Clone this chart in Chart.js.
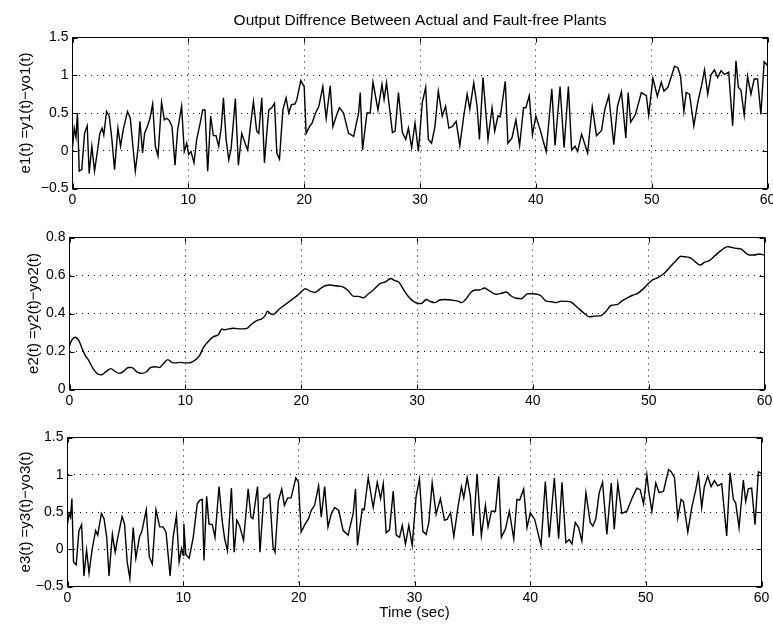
<!DOCTYPE html>
<html>
<head>
<meta charset="utf-8">
<script src="https://cdn.jsdelivr.net/npm/chart.js@4.4.1/dist/chart.umd.min.js"></script>
<style>
  html, body { margin: 0; padding: 0; background: #fff; }
  #wrap { position: relative; width: 773px; height: 626px; }
  canvas { position: absolute; left: 0; }
</style>
</head>
<body>
<div id="wrap">
  <canvas id="c1" width="773" height="210" style="top:0px"></canvas>
  <canvas id="c2" width="773" height="200" style="top:210px"></canvas>
  <canvas id="c3" width="773" height="216" style="top:410px"></canvas>
</div>
<script>
// e1(t)
const e1T = [0, 0.15, 0.3, 0.43, 0.58, 0.8, 1.04, 1.27, 1.44, 1.67, 1.9, 2.13, 2.36, 2.56, 2.7, 2.94, 3.17, 3.4, 3.63, 3.92,
  4.15, 4.38, 4.75, 4.99, 5.19, 5.42, 5.68, 5.82, 6.05, 6.22, 6.46, 6.69, 6.92, 7.15, 7.38, 7.69, 7.93, 8.13, 8.36, 8.59,
  8.85, 9.08, 9.42, 9.65, 9.86, 10.03, 10.23, 10.49, 10.72, 11.0, 11.24, 11.44, 11.67, 11.93, 12.16, 12.39, 12.62, 12.85, 13.03, 13.26,
  13.49, 13.69, 14.06, 14.32, 14.61, 14.9, 15.13, 15.39, 15.62, 15.9, 16.08, 16.34, 16.57, 16.77, 16.95, 17.2, 17.44, 17.64, 17.87, 18.16,
  18.44, 18.67, 18.9, 19.22, 19.37, 19.71, 20.0, 20.17, 20.46, 20.69, 20.98, 21.27, 21.61, 21.9, 22.25, 22.48, 22.82, 23.05, 23.4, 23.83,
  24.27, 24.7, 24.84, 25.04, 25.42, 25.7, 25.94, 26.37, 26.72, 26.9, 27.11, 27.62, 27.85, 28.14, 28.48, 28.77, 29.0, 29.28, 29.57, 29.86,
  30.2, 30.49, 30.72, 31.0, 31.29, 31.58, 31.92, 32.21, 32.49, 32.78, 33.12, 33.44, 33.78, 34.07, 34.3, 34.64, 34.93, 35.13, 35.44, 35.87,
  36.22, 36.45, 36.73, 36.93, 37.36, 37.59, 37.94, 38.28, 38.6, 38.94, 39.14, 39.43, 39.71, 40.0, 40.37, 40.89, 41.38, 41.66, 42.09, 42.44,
  42.81, 43.09, 43.38, 43.61, 43.95, 44.47, 44.87, 45.24, 45.67, 45.96, 46.3, 46.73, 47.05, 47.39, 47.77, 47.97, 48.19, 48.6, 49.11, 49.54,
  49.74, 50.11, 50.49, 50.83, 51.06, 51.4, 51.63, 51.98, 52.26, 52.49, 52.78, 52.98, 53.27, 53.64, 53.98, 54.33, 54.56, 54.84, 55.13, 55.42,
  55.7, 55.99, 56.28, 56.65, 56.99, 57.28, 57.48, 57.71, 57.99, 58.28, 58.57, 58.85, 59.14, 59.43, 59.71, 60];
const e1 = [0.04, 0.3, 0.18, 0.5, -0.27, -0.25, 0.23, 0.33, -0.3, 0.06, -0.27, -0.03, 0.23, 0.3, 0.21, 0.52, 0.46, 0.15, -0.25, 0.3,
  0.06, 0.28, 0.52, 0.43, 0.1, -0.27, 0.06, 0.39, -0.03, 0.23, 0.32, 0.43, 0.62, 0.06, -0.07, 0.64, 0.41, 0.43, 0.4, 0.32,
  -0.19, 0.28, 0.59, -0.01, 0.1, -0.05, -0.01, -0.16, 0.15, 0.35, 0.54, 0.54, -0.27, 0.46, 0.2, 0.2, 0.06, 0.32, 0.7, 0.15,
  -0.12, 0.02, 0.69, -0.19, 0.23, 0.1, 0.01, 0.37, 0.65, 0.26, 0.23, 0.7, -0.16, 0.23, 0.54, 0.57, 0.63, -0.03, -0.11, 0.54,
  0.7, 0.5, 0.61, 0.62, 0.68, 0.93, 0.85, 0.23, 0.32, 0.37, 0.5, 0.59, 0.85, 0.43, 0.86, 0.32, 0.48, 0.57, 0.5, 0.23,
  0.19, 0.5, 0.77, 0.01, 0.5, 0.5, 0.91, 0.54, 0.88, 0.68, 0.9, 0.24, 0.26, 0.77, 0.24, 0.15, 0.3, 0.04, 0.37, -0.01,
  0.64, 0.84, 0.15, 0.1, 0.32, 0.79, 0.46, 0.59, 0.3, 0.32, 0.39, 0.07, 0.46, 0.75, 0.55, 0.9, 0.59, 0.15, 0.97, 0.15,
  0.57, 0.26, 0.46, 0.45, 0.92, 0.1, 0.17, 0.41, 0.07, 0.57, 0.57, 0.73, 0.21, 0.46, 0.28, -0.01, 0.82, 0.07, 0.85, 0.04,
  0.85, 0.01, 0.06, -0.01, 0.22, -0.03, 0.58, 0.2, 0.27, 0.55, 0.73, 0.08, 0.59, 0.78, 0.17, 0.77, 0.38, 0.48, 0.77, 0.73,
  0.47, 0.96, 0.72, 0.91, 0.79, 0.84, 0.95, 1.12, 1.1, 0.99, 0.52, 0.77, 0.75, 0.33, 0.64, 0.88, 1.07, 0.75, 1.01, 1.07,
  0.97, 1.06, 1.01, 1.04, 0.33, 1.19, 0.84, 0.8, 0.47, 0.99, 0.75, 0.95, 0.95, 0.48, 1.18, 1.13];

// e2(t): middle panel
const e2T = [0, 0.2, 0.49, 0.78, 1.06, 1.35, 1.64, 2.07, 2.5, 2.79, 3.17, 3.57, 3.94, 4.32, 4.66, 5.09, 5.38, 5.81, 6.24, 6.62,
  7.02, 7.4, 7.77, 8.12, 8.49, 8.83, 9.21, 9.55, 9.99, 10.42, 10.85, 11.22, 11.57, 12.0, 12.43, 12.86, 13.15, 13.35, 13.73, 14.16,
  14.73, 15.31, 15.74, 16.17, 16.6, 16.89, 17.09, 17.38, 17.61, 18.04, 18.47, 18.91, 19.34, 19.77, 20.1, 20.35, 20.83, 21.21, 21.64, 22.07,
  22.5, 22.94, 23.65, 24.09, 24.52, 24.95, 25.38, 25.81, 26.24, 26.82, 27.27, 27.73, 28.07, 28.42, 28.79, 29.22, 29.66, 30.09, 30.37, 30.8,
  31.09, 31.52, 31.95, 32.39, 32.96, 33.53, 33.88, 34.25, 34.68, 35.03, 35.4, 35.83, 36.26, 36.84, 37.27, 37.7, 38.13, 38.56, 38.99, 39.57,
  40.0, 40.43, 40.72, 41.15, 41.58, 42.01, 42.44, 42.87, 43.3, 43.88, 44.45, 44.89, 45.32, 45.89, 46.32, 46.75, 47.33, 47.67, 48.19, 48.62,
  49.05, 49.48, 49.91, 50.34, 50.78, 51.35, 51.93, 52.36, 52.79, 53.07, 53.65, 54.08, 54.45, 54.8, 55.23, 55.66, 56.24, 56.81, 57.1, 57.53,
  57.96, 58.39, 58.68, 59.11, 59.54, 60];
const e2 = [0.23, 0.26, 0.275, 0.26, 0.22, 0.18, 0.155, 0.107, 0.08, 0.078, 0.095, 0.11, 0.095, 0.085, 0.095, 0.116, 0.116, 0.093, 0.085, 0.092,
  0.116, 0.12, 0.116, 0.137, 0.157, 0.143, 0.14, 0.143, 0.14, 0.141, 0.155, 0.178, 0.222, 0.254, 0.278, 0.289, 0.319, 0.314, 0.319, 0.322,
  0.319, 0.322, 0.345, 0.363, 0.372, 0.389, 0.412, 0.398, 0.395, 0.42, 0.44, 0.46, 0.48, 0.5, 0.52, 0.53, 0.516, 0.511, 0.53, 0.546,
  0.55, 0.546, 0.539, 0.518, 0.49, 0.49, 0.483, 0.504, 0.525, 0.557, 0.566, 0.584, 0.573, 0.566, 0.531, 0.492, 0.465, 0.453, 0.453, 0.474,
  0.465, 0.457, 0.471, 0.474, 0.471, 0.465, 0.457, 0.478, 0.513, 0.524, 0.524, 0.534, 0.519, 0.501, 0.506, 0.513, 0.492, 0.48, 0.478, 0.504,
  0.504, 0.501, 0.492, 0.465, 0.462, 0.457, 0.465, 0.464, 0.46, 0.43, 0.4, 0.382, 0.386, 0.389, 0.412, 0.442, 0.448, 0.465, 0.483, 0.496,
  0.506, 0.527, 0.554, 0.577, 0.589, 0.612, 0.651, 0.678, 0.701, 0.699, 0.692, 0.669, 0.655, 0.669, 0.678, 0.701, 0.731, 0.752, 0.749, 0.743,
  0.74, 0.718, 0.708, 0.708, 0.713, 0.708];

// e3(t): bottom panel
const e3T = [0, 0.14, 0.26, 0.38, 0.52, 0.75, 0.99, 1.22, 1.42, 1.65, 1.86, 2.12, 2.43, 2.61, 2.93, 3.16, 3.39, 3.59, 3.88, 4.12,
  4.35, 4.72, 4.93, 5.16, 5.39, 5.68, 5.91, 6.23, 6.43, 6.81, 7.07, 7.33, 7.65, 7.97, 8.26, 8.52, 8.87, 9.13, 9.42, 9.65,
  9.86, 10.0, 10.06, 10.23, 10.52, 10.87, 11.22, 11.45, 11.65, 11.8, 12.03, 12.23, 12.52, 12.75, 13.1, 13.39, 13.59, 13.83, 14.17, 14.41,
  14.64, 14.87, 15.22, 15.62, 15.86, 16.03, 16.43, 16.64, 16.96, 17.19, 17.48, 17.77, 17.94, 18.23, 18.52, 18.75, 19.04, 19.33, 19.74, 19.97,
  20.2, 20.55, 20.84, 21.07, 21.36, 21.71, 21.94, 22.23, 22.52, 22.81, 23.1, 23.45, 23.83, 24.26, 24.7, 24.9, 25.07, 25.48, 25.65, 26.0,
  26.43, 26.78, 27.07, 27.3, 27.55, 27.84, 28.16, 28.42, 28.71, 28.94, 29.22, 29.51, 29.8, 30.14, 30.43, 30.72, 31.01, 31.24, 31.53, 31.87,
  32.24, 32.59, 32.82, 33.11, 33.4, 33.77, 34.06, 34.26, 34.55, 34.83, 35.06, 35.41, 35.78, 36.13, 36.36, 36.65, 37.0, 37.28, 37.51, 37.86,
  38.2, 38.58, 38.86, 39.09, 39.44, 39.73, 40.01, 40.39, 40.94, 41.31, 41.65, 42.09, 42.46, 42.75, 43.09, 43.38, 43.61, 43.9, 44.19, 44.47,
  44.82, 45.19, 45.42, 45.68, 45.97, 46.26, 46.63, 47.01, 47.27, 47.58, 47.93, 48.36, 48.85, 49.22, 49.51, 49.8, 50.09, 50.23, 50.52, 50.86,
  51.15, 51.53, 51.96, 52.19, 52.48, 52.76, 53.05, 53.25, 53.63, 53.97, 54.32, 54.55, 54.83, 55.06, 55.35, 55.64, 55.93, 56.22, 56.56, 56.99,
  57.28, 57.57, 57.77, 58.06, 58.43, 58.63, 58.86, 59.15, 59.44, 59.73, 60];
const e3 = [0.34, 0.48, 0.43, 0.68, -0.17, -0.21, 0.25, 0.33, -0.36, -0.01, -0.32, -0.01, 0.25, 0.19, 0.48, 0.41, 0.16, -0.36, 0.2, -0.04,
  0.16, 0.44, 0.34, -0.17, -0.39, 0.29, -0.12, 0.17, 0.24, 0.53, -0.1, -0.2, 0.53, 0.3, 0.3, 0.23, -0.36, 0.16, 0.45, -0.17,
  0.01, -0.08, 0.34, -0.07, -0.12, 0.16, 0.61, 0.66, 0.67, -0.15, 0.71, 0.34, 0.33, 0.16, 0.84, 0.36, 0.14, -0.02, 0.82, -0.04,
  0.39, 0.32, 0.12, 0.81, 0.43, 0.41, 0.84, -0.04, 0.68, 0.69, 0.74, 0.03, -0.04, 0.65, 0.81, 0.59, 0.69, 0.69, 0.96, 0.9,
  0.23, 0.34, 0.41, 0.52, 0.59, 0.85, 0.43, 0.84, 0.3, 0.48, 0.56, 0.52, 0.25, 0.19, 0.48, 0.81, 0.05, 0.54, 0.53, 0.96,
  0.56, 0.9, 0.68, 0.88, 0.22, 0.26, 0.78, 0.19, 0.16, 0.32, 0.07, 0.32, 0.05, 0.71, 0.94, 0.24, 0.2, 0.36, 0.89, 0.47,
  0.68, 0.39, 0.4, 0.49, 0.17, 0.58, 0.84, 0.69, 0.96, 0.71, 0.18, 1.01, 0.18, 0.59, 0.3, 0.51, 0.51, 0.98, 0.16, 0.27,
  0.51, 0.14, 0.67, 0.66, 0.81, 0.29, 0.49, 0.4, 0.05, 0.91, 0.16, 0.96, 0.14, 0.9, 0.09, 0.13, 0.07, 0.36, 0.29, 0.11,
  0.76, 0.36, 0.31, 0.41, 0.76, 0.9, 0.2, 0.89, 0.27, 0.88, 0.48, 0.51, 0.7, 0.82, 0.8, 0.61, 1.0, 0.8, 0.51, 0.89,
  0.76, 0.78, 1.07, 1.04, 0.96, 0.42, 0.67, 0.64, 0.23, 0.56, 0.8, 1.0, 0.56, 0.84, 0.98, 0.84, 0.92, 0.85, 0.88, 0.18,
  1.03, 0.67, 0.62, 0.29, 0.93, 0.64, 0.81, 0.82, 0.33, 1.04, 1.02];

const xTicks = [0, 10, 20, 30, 40, 50, 60];
const yTicks1 = [-0.5, 0, 0.5, 1, 1.5];
const yTicks2 = [0, 0.2, 0.4, 0.6, 0.8];
const yTicks3 = [-0.5, 0, 0.5, 1, 1.5];

const chartTitle = 'Output Diffrence Between Actual and Fault-free Plants';
const yLabels = ['e1(t) =y1(t)\u2212yo1(t)', 'e2(t) =y2(t)\u2212yo2(t)', 'e3(t) =y3(t)\u2212yo3(t)'];
const xLabel = 'Time (sec)';

const FONT = 'Helvetica, "Liberation Sans", Arial, sans-serif';

// matlab style box with inward ticks on all four sides
const framePlugin = {
  id: 'frame',
  afterDatasetsDraw(chart) {
    const { ctx, chartArea: a, scales: { x, y } } = chart;
    ctx.save();
    ctx.strokeStyle = '#000';
    ctx.lineWidth = 1;
    ctx.strokeRect(a.left, a.top, a.right - a.left, a.bottom - a.top);
    ctx.beginPath();
    x.ticks.forEach(t => {
      const px = Math.round(x.getPixelForValue(t.value)) + 0.5;
      ctx.moveTo(px, a.bottom); ctx.lineTo(px, a.bottom - 5);
      ctx.moveTo(px, a.top); ctx.lineTo(px, a.top + 5);
    });
    y.ticks.forEach(t => {
      const py = Math.round(y.getPixelForValue(t.value)) + 0.5;
      ctx.moveTo(a.left, py); ctx.lineTo(a.left + 5, py);
      ctx.moveTo(a.right, py); ctx.lineTo(a.right - 5, py);
    });
    ctx.stroke();
    ctx.restore();
  }
};

function makeChart(id, cfg) {
  return new Chart(document.getElementById(id), {
    type: 'line',
    data: {
      datasets: [{
        data: cfg.t.map((t, i) => ({ x: t, y: cfg.v[i] })),
        borderColor: '#000',
        borderWidth: 1.4,
        pointRadius: 0,
        tension: cfg.smooth ? 0.4 : 0,
        cubicInterpolationMode: cfg.smooth ? 'monotone' : 'default'
      }]
    },
    options: {
      responsive: false,
      animation: false,
      events: [],
      layout: { padding: { top: cfg.padTop, right: 773 - cfg.right, left: 0, bottom: 0 } },
      plugins: {
        legend: { display: false },
        tooltip: { enabled: false },
        title: {
          display: !!cfg.title,
          text: cfg.title || '',
          color: '#000',
          fullSize: false,
          font: { family: FONT, size: 15.5, weight: 'normal' },
          padding: { top: 11.7, bottom: 7.2 }
        }
      },
      scales: {
        x: {
          type: 'linear',
          min: 0,
          max: 60,
          afterBuildTicks: s => { s.ticks = xTicks.map(v => ({ value: v })); },
          afterFit: s => { s.height = cfg.xHeight; s.paddingLeft = 0; s.paddingRight = 0; },
          grid: { color: '#000', drawTicks: false },
          border: { display: false, dash: [1, 5] },
          ticks: { color: '#000', padding: 3, maxRotation: 0, font: { family: FONT, size: 14 } },
          title: {
            display: !!cfg.xLabel,
            text: cfg.xLabel || '',
            color: '#000',
            font: { family: FONT, size: 15 },
            padding: { top: 0, bottom: 4 }
          }
        },
        y: {
          min: cfg.yTicks[0],
          max: cfg.yTicks[cfg.yTicks.length - 1],
          afterBuildTicks: s => { s.ticks = cfg.yTicks.map(v => ({ value: v })); },
          afterFit: s => { s.width = cfg.left; s.paddingTop = 0; s.paddingBottom = 0; },
          grid: { color: '#000', drawTicks: false },
          border: { display: false, dash: [1, 5] },
          ticks: {
            color: '#000',
            padding: 4,
            font: { family: FONT, size: 14 },
            callback: v => String(v).replace('-', '\u2212')
          },
          title: {
            display: true,
            text: cfg.yLabel,
            color: '#000',
            font: { family: FONT, size: 15 },
            padding: { top: cfg.yTitlePad, bottom: 0 }
          }
        }
      }
    },
    plugins: [framePlugin]
  });
}

makeChart('c1', { t: e1T, v: e1, yTicks: yTicks1, yLabel: yLabels[0], title: chartTitle,
  padTop: 0, left: 72.5, right: 767.5, xHeight: 21.5, yTitlePad: 17 });
makeChart('c2', { t: e2T, v: e2, yTicks: yTicks2, yLabel: yLabels[1], smooth: true,
  padTop: 27.5, left: 69.5, right: 764.5, xHeight: 20.5, yTitlePad: 25 });
makeChart('c3', { t: e3T, v: e3, yTicks: yTicks3, yLabel: yLabels[2], xLabel: xLabel,
  padTop: 27.5, left: 67.5, right: 761.5, xHeight: 39.5, yTitlePad: 17 });
</script>
</body>
</html>
